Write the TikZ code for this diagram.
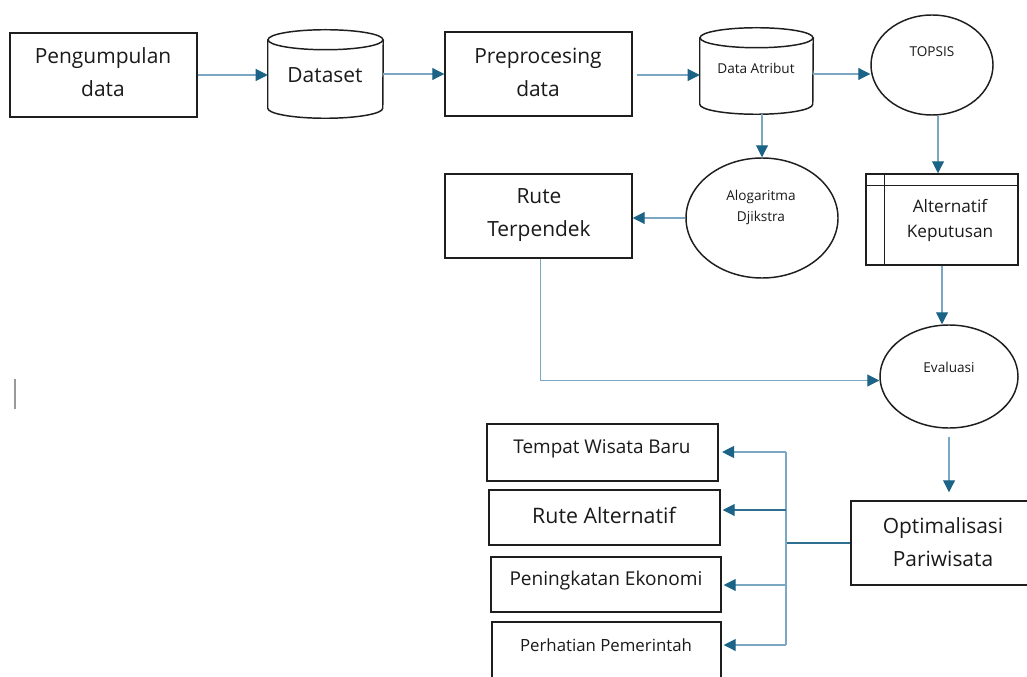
\documentclass[tikz,border=0pt]{standalone}
\usepackage{fontspec}
\setmainfont{Open Sans}
\usetikzlibrary{arrows.meta,shapes.geometric,calc}
\definecolor{linec}{HTML}{7AA8C2}
\definecolor{darkl}{HTML}{2F6F92}
\definecolor{arrc}{HTML}{1B6387}
\definecolor{txt}{HTML}{1A1A1A}
\definecolor{edge}{HTML}{1E1E1E}
\begin{document}
\begin{tikzpicture}[x=0.75pt,y=-0.75pt,
  box/.style={draw=edge,line width=1.1pt,rectangle,inner sep=0pt},
  ell/.style={draw=edge,line width=1.1pt,ellipse,inner sep=0pt},
  cylline/.style={draw=edge,line width=1.1pt},
  ghost/.style={rectangle,inner sep=0pt,draw=none},
  lbl/.style={text=txt,inner sep=0pt,align=center},
  big/.style={font=\fontsize{15.7}{24.75}\selectfont},
  mid/.style={font=\fontsize{12.9}{18.75}\selectfont},
  small/.style={font=\fontsize{10.2}{15.75}\selectfont},
  conn/.style={draw=linec,line width=0.8pt,-{Triangle[length=9pt,width=9pt,color=arrc]}},
  connd/.style={conn,draw=darkl},
  busl/.style={draw=linec,line width=0.8pt},
  busd/.style={draw=darkl,line width=0.8pt}
]
\useasboundingbox[fill=white] (0,0) rectangle (1027,677);

% ---- shapes ----
\node[box,minimum width=140.25pt,minimum height=63pt] (pd) at (103.5,75) {};
\node[ghost,minimum width=86.25pt,minimum height=66pt] (ds) at (325.5,74) {};
\node[box,minimum width=140.25pt,minimum height=63pt] (pp) at (538.5,74) {};
\node[ghost,minimum width=84.75pt,minimum height=64.5pt] (da) at (756.5,71) {};
\node[ell,minimum width=91.5pt,minimum height=75pt] (tp) at (932,65) {};
\node[ell,minimum width=114pt,minimum height=90pt] (al) at (762,218) {};
\node[box,minimum width=140.25pt,minimum height=63pt] (rt) at (538.5,216) {};
\node[box,minimum width=114pt,minimum height=68.25pt] (alt) at (942,219.5) {};
\node[ell,minimum width=103.5pt,minimum height=77.25pt] (ev) at (949,376.5) {};
\node[box,minimum width=135.75pt,minimum height=63pt] (op) at (941.5,543) {};
\node[box,minimum width=173.25pt,minimum height=42.75pt] (tw) at (602.5,452.5) {};
\node[box,minimum width=173.25pt,minimum height=41.25pt] (ra) at (604.5,517.5) {};
\node[box,minimum width=172.5pt,minimum height=41.25pt] (pe) at (606,584.5) {};
\node[box,minimum width=171.75pt,minimum height=58.5pt] (ph) at (606.5,661) {};

% cylinders
\draw[cylline] ($(ds.north west)+(0,10)$) -- ($(ds.south west)+(0,-10)$)
  arc[start angle=180,end angle=360,x radius=43.125pt,y radius=7.5pt]
  -- ($(ds.north east)+(0,10)$);
\draw[cylline] ($(ds.north)+(0,10)$) ellipse [x radius=43.125pt,y radius=7.5pt];
\draw[cylline] ($(da.north west)+(0,10)$) -- ($(da.south west)+(0,-10)$)
  arc[start angle=180,end angle=360,x radius=42.375pt,y radius=7.5pt]
  -- ($(da.north east)+(0,10)$);
\draw[cylline] ($(da.north)+(0,10)$) ellipse [x radius=42.375pt,y radius=7.5pt];

% internal lines of Alternatif Keputusan
\draw[cylline] ([yshift=-9pt]alt.north west) -- ([yshift=-9pt]alt.north east);
\draw[cylline] ([xshift=14.25pt]alt.north west) -- ([xshift=14.25pt]alt.south west);

% ---- texts ----
\node[lbl,big] (tpd) at (103,72.5) {Pengumpulan\\data};
\node[lbl,big] (tds) at (325,75) {Dataset};
\node[lbl,big] (tpp) at (538,72.5) {Preprocesing\\data};
\node[lbl,small] (tda) at (756,68) {Data Atribut};
\node[lbl,small] (ttp) at (932,52) {TOPSIS};
\node[lbl,small] (tal) at (761,207.5) {Alogaritma\\Djikstra};
\node[lbl,big] (trt) at (539,215.5) {Rute\\Terpendek};
\node[lbl,mid] (talt) at (950,220.5) {Alternatif\\Keputusan};
\node[lbl,small] (tev) at (949,367) {Evaluasi};
\node[lbl,big] (top) at (943,542.5) {Optimalisasi\\Pariwisata};
\node[lbl,font=\fontsize{14.2}{16}\selectfont] (ttw) at (602,449) {Tempat Wisata Baru};
\node[lbl,font=\fontsize{16}{18}\selectfont] (tra) at (604,515) {Rute Alternatif};
\node[lbl,font=\fontsize{14.3}{16}\selectfont] (tpe) at (606,581) {Peningkatan Ekonomi};
\node[lbl,font=\fontsize{12.6}{16}\selectfont] (tph) at (606,645) {Perhatian Pemerintah};

% ---- connectors ----
\draw[conn] (pd.east) -- (pd.east -| ds.west);
\draw[conn] (ds.east) -- (ds.east -| pp.west);
\draw[conn] ([xshift=3pt,yshift=-0.75pt]pp.east) -- ([yshift=-0.75pt]pp.east -| da.west);
\draw[conn] ([yshift=-2.25pt]da.east) -- ([yshift=-2.25pt]da.east -| tp.west);
\draw[conn] (al.north |- da.south) -- (al.north);
\draw[conn] (al.west) -- (al.west -| rt.east);
\draw[conn] ([xshift=4.5pt]tp.south) -- ([xshift=4.5pt]tp.south |- alt.north);
\draw[conn] (alt.south) -- (alt.south |- ev.north);
\draw[conn] ([xshift=1.5pt]rt.south) |- ([yshift=-3pt]ev.west);
\draw[conn] ([yshift=-6pt]ev.south) -- ([yshift=6pt]ev.south |- op.north);

\coordinate (b1) at (786,452);
\coordinate (b2) at (786,510);
\coordinate (b3) at (786,585);
\coordinate (b4) at (786,645);
\draw[busd] (op.west) -- (op.west -| b1);
\draw[busl] (b1) -- (b4);
\draw[conn,shorten >=2.5pt] (b1) -- (b1 -| tw.east);
\draw[connd,shorten >=1.5pt] (b2) -- (b2 -| ra.east);
\draw[conn,shorten >=1.5pt] (b3) -- (b3 -| pe.east);
\draw[conn,shorten >=1.5pt] (b4) -- (b4 -| ph.east);

% text cursor mark
\draw[gray!80,line width=1.4pt] (15,379) -- (15,409);
\end{tikzpicture}
\end{document}
